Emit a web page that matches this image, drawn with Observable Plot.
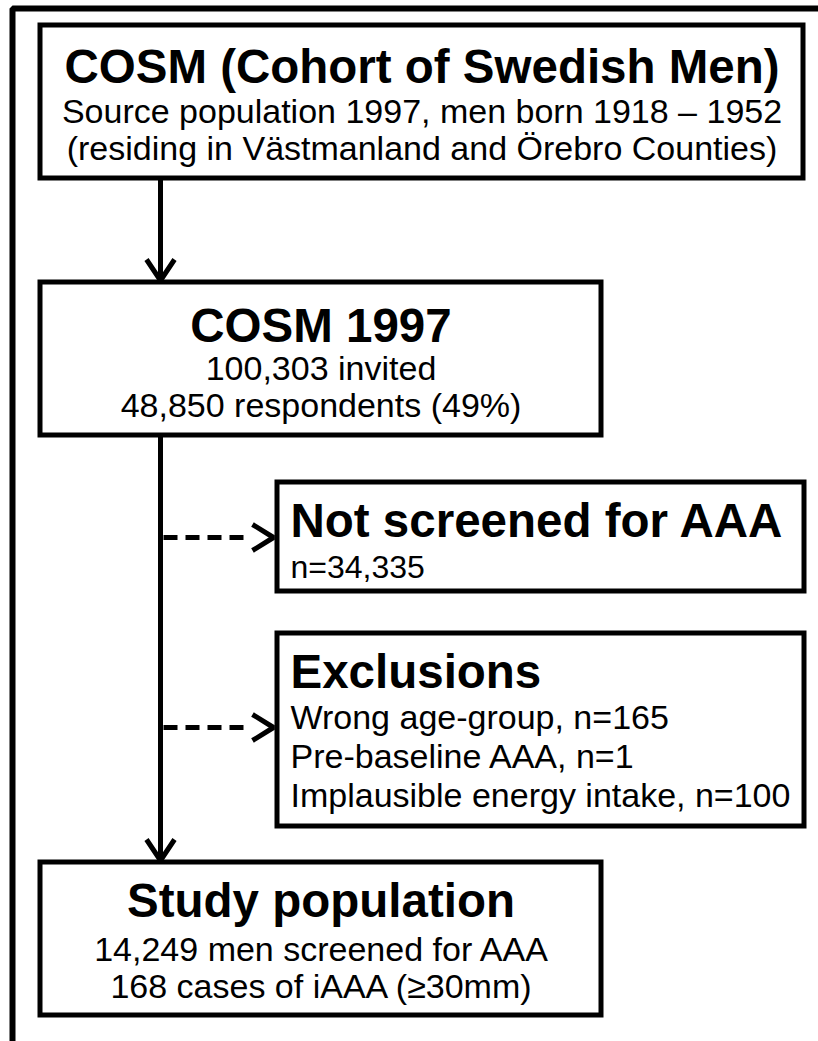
<!DOCTYPE html>
<html>
<head>
<meta charset="utf-8">
<script src="https://cdn.jsdelivr.net/npm/d3@7"></script>
<script src="https://cdn.jsdelivr.net/npm/@observablehq/plot@0.6"></script>
<style>
  html, body { margin: 0; padding: 0; background: #fff; }
</style>
</head>
<body>
<div id="chart"></div>
<script>
// ---------- DATA ----------
const stageNames = [
  "COSM (Cohort of Swedish Men)",
  "COSM 1997",
  "Not screened for AAA",
  "Exclusions",
  "Study population"
];
const cohortYears = [1997, 1918, 1952];          // source year, born from, born to
const counties = ["Västmanland", "Örebro"];
const participation = [100303, 48850, 49];       // invited, respondents, response %
const notScreened = [34335];
const exclusionReasons = ["Wrong age-group", "Pre-baseline AAA", "Implausible energy intake"];
const exclusionCounts = [165, 1, 100];
const studyCounts = [14249, 168];                 // screened men, iAAA cases
const caseThresholdMm = [30];

const fmt = d3.format(",");
const stageLines = [
  [`Source population ${cohortYears[0]}, men born ${cohortYears[1]} – ${cohortYears[2]}`,
   `(residing in ${counties[0]} and ${counties[1]} Counties)`],
  [`${fmt(participation[0])} invited`,
   `${fmt(participation[1])} respondents (${participation[2]}%)`],
  [`n=${fmt(notScreened[0])}`],
  exclusionReasons.map((r, i) => `${r}, n=${fmt(exclusionCounts[i])}`),
  [`${fmt(studyCounts[0])} men screened for AAA`,
   `${studyCounts[1]} cases of iAAA (≥${caseThresholdMm[0]}mm)`]
];

// ---------- LAYOUT (positions / sizes) ----------
const W = 818, H = 1041;
const layout = [
  {x1: 40,  y1: 25,  x2: 803, y2: 178,  anchor: "middle", titleY: 82,  lineY: [122, 159], lineSize: 34},
  {x1: 40,  y1: 282, x2: 601, y2: 435,  anchor: "middle", titleY: 341, lineY: [379, 416], lineSize: 34},
  {x1: 277, y1: 482, x2: 804, y2: 591,  anchor: "start",  titleY: 536, lineY: [577], lineSize: 32},
  {x1: 277, y1: 633, x2: 804, y2: 826,  anchor: "start",  titleY: 687, lineY: [728, 767, 806], lineSize: 34},
  {x1: 40,  y1: 862, x2: 601, y2: 1015, anchor: "middle", titleY: 916, lineY: [960, 997], lineSize: 34}
];
const trunkX = 160;
const textPad = 13;
const titleSize = 47.5;
const font = "'Liberation Sans', Arial, Helvetica, sans-serif";

const boxes = layout.map((b, i) => ({...b, id: i}));
const textX = b => b.anchor === "middle" ? (b.x1 + b.x2) / 2 : b.x1 + textPad;

const titles = boxes.map((b, i) => ({text: stageNames[i], x: textX(b), y: b.titleY, anchor: b.anchor}));
const lines = boxes.flatMap((b, i) => stageLines[i].map((t, j) => ({
  text: t, x: textX(b), y: b.lineY[j], anchor: b.anchor, size: b.lineSize
})));

// connectors
const solidArrows = [
  {x1: trunkX, y1: boxes[0].y2, x2: trunkX, y2: boxes[1].y1 - 2},
  {x1: trunkX, y1: boxes[1].y2, x2: trunkX, y2: boxes[4].y1 - 2}
];
const branchY = [537, 727];
const dashedArrows = branchY.map((y, k) => {
  const target = boxes[2 + k];
  return {x1: trunkX + 3, y1: y, x2: target.x1 - 32, y2: y, tipX: target.x1 - 4};
});
const headLen = 21, headHalf = 14;
const heads = [];
solidArrows.forEach((a, k) => {
  const tx = a.x2, ty = a.y2;
  heads.push({id: "s" + k, x: tx - headHalf, y: ty - headLen},
             {id: "s" + k, x: tx, y: ty},
             {id: "s" + k, x: tx + headHalf, y: ty - headLen});
});
dashedArrows.forEach((a, k) => {
  const tx = a.tipX, ty = a.y2;
  heads.push({id: "d" + k, x: tx - headLen, y: ty - headHalf + 1},
             {id: "d" + k, x: tx, y: ty},
             {id: "d" + k, x: tx - headLen, y: ty + headHalf - 1});
});
const frame = [{x: 12, y: H + 5}, {x: 12, y: 8}, {x: W + 5, y: 8}];

const textMarks = (data, opts) => ["middle", "start"].map(anc =>
  Plot.text(data.filter(d => d.anchor === anc), {
    x: "x", y: "y", text: "text", textAnchor: anc, lineAnchor: "bottom",
    fill: "black", fontFamily: font, ...opts
  })
);

const chart = Plot.plot({
  width: W, height: H,
  margin: 0,
  x: {domain: [0, W], axis: null},
  y: {domain: [H, 0], axis: null},
  style: {background: "white", fontFamily: font},
  marks: [
    Plot.line(frame, {x: "x", y: "y", stroke: "black", strokeWidth: 6, strokeLinejoin: "miter", strokeLinecap: "butt"}),
    Plot.link(solidArrows, {x1: "x1", y1: "y1", x2: "x2", y2: "y2", stroke: "black", strokeWidth: 5}),
    Plot.link(dashedArrows, {x1: "x1", y1: "y1", x2: "x2", y2: "y2", stroke: "black", strokeWidth: 5, strokeDasharray: "14,8"}),
    Plot.line(heads, {x: "x", y: "y", z: "id", stroke: "black", strokeWidth: 5, strokeLinejoin: "miter", strokeLinecap: "butt"}),
    Plot.rect(boxes, {x1: "x1", y1: "y1", x2: "x2", y2: "y2", fill: "white", stroke: "black", strokeWidth: 5}),
    ...textMarks(titles, {fontSize: titleSize, fontWeight: "bold"}),
    ...textMarks(lines, {fontSize: d => d.size})
  ]
});
document.getElementById("chart").appendChild(chart);
</script>
</body>
</html>
